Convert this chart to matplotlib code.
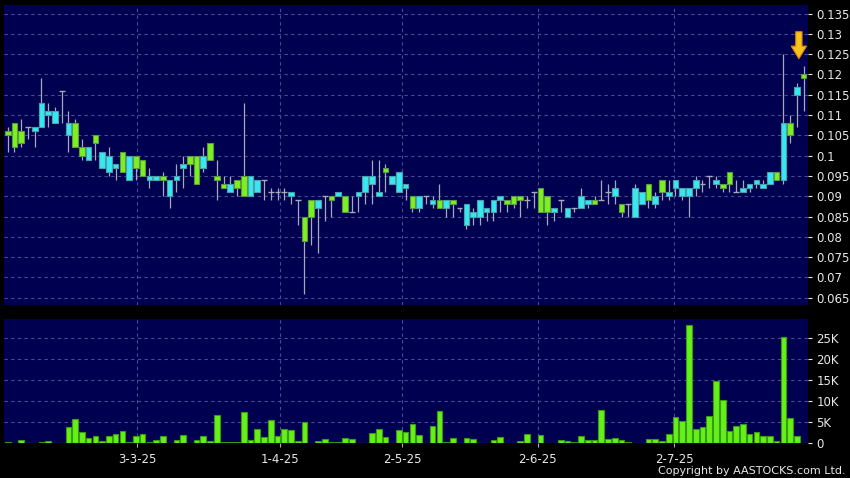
import matplotlib
matplotlib.use("Agg")
import matplotlib.pyplot as plt
import numpy as np

# ---------------- data ----------------
opens = [0.106, 0.108, 0.106, 0.107, 0.106, 0.107, 0.110, 0.108, 0.116, 0.105,
         0.108, 0.102, 0.099, 0.105, 0.097, 0.096, 0.097, 0.101, 0.094, 0.100,
         0.099, 0.094, 0.094, 0.095, 0.090, 0.094, 0.097, 0.100, 0.100, 0.097,
         0.103, 0.095, 0.093, 0.091, 0.094, 0.095, 0.090, 0.091, 0.094, 0.091,
         0.091, 0.091, 0.090, 0.089, 0.085, 0.089, 0.087, 0.090, 0.090, 0.090,
         0.090, 0.086, 0.090, 0.091, 0.093, 0.090, 0.097, 0.093, 0.091, 0.092,
         0.090, 0.087, 0.090, 0.088, 0.089, 0.087, 0.089, 0.087, 0.083, 0.085,
         0.085, 0.086, 0.086, 0.089, 0.089, 0.090, 0.090, 0.089, 0.091, 0.092,
         0.090, 0.086, 0.089, 0.085, 0.087, 0.087, 0.088, 0.089, 0.089, 0.091,
         0.090, 0.088, 0.088, 0.085, 0.088, 0.093, 0.088, 0.094, 0.090, 0.092,
         0.090, 0.090, 0.092, 0.093, 0.095, 0.093, 0.093, 0.096, 0.091, 0.091,
         0.092, 0.093, 0.092, 0.093, 0.096, 0.094, 0.108, 0.115, 0.120]
closes = [0.105, 0.102, 0.103, 0.107, 0.107, 0.113, 0.111, 0.111, 0.116, 0.108,
          0.102, 0.100, 0.102, 0.103, 0.101, 0.100, 0.098, 0.096, 0.100, 0.097,
          0.095, 0.095, 0.095, 0.094, 0.094, 0.095, 0.098, 0.098, 0.093, 0.100,
          0.099, 0.094, 0.092, 0.093, 0.092, 0.090, 0.095, 0.094, 0.094, 0.091,
          0.091, 0.091, 0.091, 0.089, 0.079, 0.085, 0.089, 0.090, 0.089, 0.091,
          0.086, 0.086, 0.091, 0.095, 0.095, 0.091, 0.096, 0.095, 0.096, 0.093,
          0.087, 0.090, 0.090, 0.089, 0.087, 0.089, 0.088, 0.087, 0.088, 0.086,
          0.089, 0.087, 0.089, 0.090, 0.088, 0.088, 0.089, 0.089, 0.091, 0.086,
          0.086, 0.087, 0.089, 0.087, 0.087, 0.090, 0.089, 0.088, 0.089, 0.091,
          0.092, 0.086, 0.088, 0.092, 0.091, 0.089, 0.090, 0.091, 0.091, 0.094,
          0.092, 0.092, 0.094, 0.093, 0.095, 0.094, 0.092, 0.093, 0.091, 0.092,
          0.093, 0.094, 0.093, 0.096, 0.094, 0.108, 0.105, 0.117, 0.119]
highs = [0.107, 0.108, 0.109, 0.107, 0.107, 0.119, 0.113, 0.112, 0.116, 0.111,
         0.109, 0.104, 0.102, 0.105, 0.101, 0.102, 0.098, 0.101, 0.100, 0.100,
         0.099, 0.097, 0.095, 0.096, 0.094, 0.098, 0.100, 0.100, 0.100, 0.102,
         0.103, 0.099, 0.095, 0.095, 0.094, 0.113, 0.095, 0.094, 0.094, 0.092,
         0.092, 0.092, 0.091, 0.089, 0.085, 0.089, 0.089, 0.090, 0.090, 0.091,
         0.090, 0.090, 0.091, 0.095, 0.099, 0.099, 0.098, 0.095, 0.096, 0.093,
         0.090, 0.090, 0.090, 0.090, 0.093, 0.089, 0.089, 0.087, 0.088, 0.087,
         0.089, 0.087, 0.089, 0.090, 0.089, 0.090, 0.090, 0.090, 0.091, 0.092,
         0.090, 0.087, 0.089, 0.087, 0.087, 0.092, 0.089, 0.090, 0.094, 0.093,
         0.094, 0.088, 0.088, 0.093, 0.091, 0.093, 0.091, 0.094, 0.094, 0.094,
         0.092, 0.092, 0.095, 0.094, 0.095, 0.095, 0.093, 0.096, 0.094, 0.094,
         0.093, 0.094, 0.094, 0.096, 0.096, 0.125, 0.110, 0.118, 0.122]
lows = [0.101, 0.101, 0.102, 0.104, 0.102, 0.107, 0.107, 0.108, 0.108, 0.101,
        0.102, 0.099, 0.099, 0.099, 0.097, 0.095, 0.094, 0.096, 0.094, 0.094,
        0.095, 0.092, 0.094, 0.090, 0.087, 0.091, 0.092, 0.095, 0.093, 0.096,
        0.099, 0.089, 0.092, 0.091, 0.090, 0.090, 0.090, 0.091, 0.089, 0.089,
        0.089, 0.089, 0.088, 0.083, 0.066, 0.078, 0.076, 0.084, 0.085, 0.090,
        0.086, 0.086, 0.086, 0.088, 0.088, 0.090, 0.091, 0.093, 0.091, 0.089,
        0.086, 0.086, 0.088, 0.087, 0.087, 0.085, 0.085, 0.086, 0.082, 0.083,
        0.083, 0.084, 0.084, 0.086, 0.086, 0.087, 0.085, 0.087, 0.087, 0.086,
        0.083, 0.084, 0.086, 0.085, 0.086, 0.087, 0.087, 0.088, 0.089, 0.088,
        0.088, 0.085, 0.085, 0.085, 0.088, 0.087, 0.087, 0.089, 0.089, 0.090,
        0.089, 0.085, 0.090, 0.091, 0.092, 0.092, 0.091, 0.091, 0.091, 0.091,
        0.091, 0.092, 0.092, 0.093, 0.094, 0.093, 0.103, 0.107, 0.111]
volumes_k = [0.2, 0.0, 0.8, 0.0, 0.0, 0.3, 0.6, 0.0, 0.0, 3.8,
             5.7, 2.7, 1.2, 1.7, 0.6, 1.8, 2.2, 3.0, 0.4, 1.8,
             2.1, 0.2, 0.9, 1.7, 0.1, 0.7, 2.0, 0.0, 0.8, 1.7,
             0.5, 6.8, 0.4, 0.4, 0.4, 7.4, 0.8, 3.4, 1.6, 5.5,
             1.7, 3.3, 3.1, 0.5, 5.1, 0.15, 0.5, 1.0, 0.4, 0.4,
             1.2, 1.0, 0.0, 0.0, 2.5, 3.3, 1.5, 0.0, 3.2, 2.7,
             4.6, 2.0, 0.0, 4.1, 7.8, 0.2, 1.2, 0.1, 1.2, 1.0,
             0.0, 0.15, 0.7, 1.4, 0.1, 0.0, 0.5, 2.1, 0.15, 1.9,
             0.15, 0.0, 0.7, 0.6, 0.3, 1.8, 0.8, 0.9, 7.9, 1.0,
             1.2, 0.9, 0.2, 0.0, 0.0, 1.1, 1.0, 0.5, 2.1, 6.3,
             5.2, 28.2, 3.3, 4.0, 6.5, 14.9, 10.2, 3.0, 4.1, 4.6,
             2.1, 2.8, 1.7, 1.7, 0.6, 25.4, 6.0, 1.7, 0.0]
date_labels = ["3-3-25", "1-4-25", "2-5-25", "2-6-25", "2-7-25"]
date_pos = [19.2, 40.3, 58.5, 78.6, 98.8]
price_ticks = [0.065, 0.07, 0.075, 0.08, 0.085, 0.09, 0.095, 0.1, 0.105,
               0.11, 0.115, 0.12, 0.125, 0.13, 0.135]
vol_ticks_k = [0, 5, 10, 15, 20, 25]

# ---------------- style ----------------
BG = "#000050"
GRID = "#4a4a96"
UP = "#38e8f0"
DOWN = "#7cf020"
WICK = "#a8a8b8"
TXT = "#e8e8e8"

W, H = 850, 478
fig = plt.figure(figsize=(W / 100, H / 100), dpi=100, facecolor="black")

def axrect(l, t, r, b):
    return [l / W, 1 - b / H, (r - l) / W, (b - t) / H]

axp = fig.add_axes(axrect(4, 5, 808, 305))
axv = fig.add_axes(axrect(4, 319, 808, 443.3), sharex=axp)

n = len(opens)
x = np.arange(n)
o = np.array(opens); c = np.array(closes)
hi = np.array(highs); lo = np.array(lows)
bw = 0.84

for ax in (axp, axv):
    ax.set_facecolor(BG)
    for s in ax.spines.values():
        s.set_visible(False)
    ax.yaxis.tick_right()
    ax.tick_params(axis="y", colors=TXT, labelcolor=TXT, labelsize=8.5,
                   length=3, width=0.8, pad=3, direction="out")
    ax.set_axisbelow(True)
    ax.grid(True, color=GRID, linestyle=(0, (3, 3)), linewidth=0.8)

# wicks
axp.vlines(x, lo, hi, color=WICK, linewidth=0.9, zorder=2)
# bodies
up = c > o
dn = c < o
dj = c == o
axp.bar(x[up], (c - o)[up], bottom=o[up], width=bw, color=UP,
        edgecolor="#4aa0a8", linewidth=0.8, zorder=3)
axp.bar(x[dn], (o - c)[dn], bottom=c[dn], width=bw, color=DOWN,
        edgecolor="#5a9a40", linewidth=0.8, zorder=3)
axp.hlines(o[dj], x[dj] - bw / 2, x[dj] + bw / 2, color=WICK, linewidth=1.0, zorder=3)

axp.set_ylim(0.0632, 0.1371)
axp.set_yticks(price_ticks)
axp.set_yticklabels(["%g" % t for t in price_ticks])
axp.set_xlim(-0.55, 118.65)
axp.set_xticks(date_pos)
axp.tick_params(axis="x", bottom=False, labelbottom=False)

# yellow marker arrow above the last candle
axp.annotate("", xy=(117.3, 0.1232), xytext=(117.3, 0.1312),
             arrowprops=dict(arrowstyle="simple,head_width=1.1,head_length=0.9,tail_width=0.45",
                             fc="#f8c21c", ec="#e08a00", lw=0.8), zorder=5)

# volume
vol = np.array(volumes_k) * 1000
axv.bar(x, vol, width=bw, color="#66f01a", edgecolor="#3a9a10", linewidth=0.8, zorder=3)
axv.set_ylim(0, 29600)
axv.set_yticks([v * 1000 for v in vol_ticks_k])
axv.set_yticklabels(["0" if v == 0 else "%dK" % v for v in vol_ticks_k])
axv.set_xticks(date_pos)
axv.set_xticklabels(date_labels)
axv.tick_params(axis="x", colors="#b0b0b0", labelcolor=TXT, labelsize=8.5,
                length=3, width=0.8, pad=4, direction="out")

fig.text(846 / W, 1 - 471 / H, "Copyright by AASTOCKS.com Ltd.", ha="right",
         va="center", color=TXT, fontsize=8)

fig.savefig("out.png", dpi=100, facecolor="black")
